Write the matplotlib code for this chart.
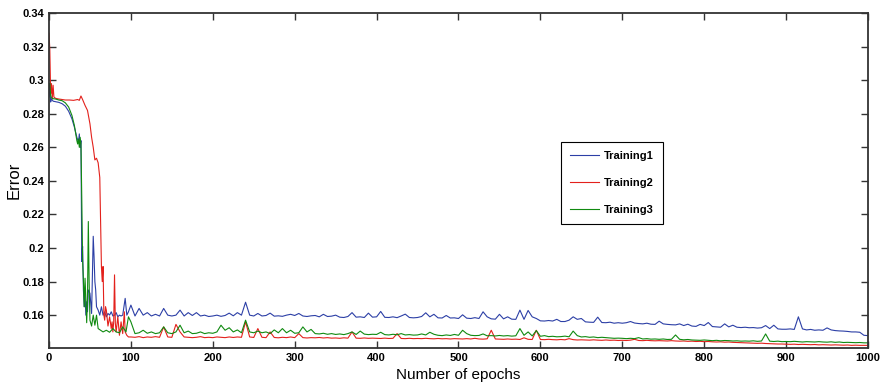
import numpy as np
import matplotlib
matplotlib.use("Agg")
import matplotlib.pyplot as plt

plt.rcParams['font.family'] = ['Liberation Sans', 'DejaVu Sans']

# ---- early epochs (0-99), read point by point ----
b_ep0 = [0, 1, 2, 3, 5, 8, 12, 16, 20, 24, 28, 31, 34, 36, 37, 38, 39, 40, 41, 42,
         43, 44, 45, 46, 47, 48, 50, 52, 54, 55, 56, 57, 58, 60, 62, 64, 66, 68, 70, 72,
         74, 76, 78, 80, 82, 84, 86, 88, 90, 93, 95, 97]
b_val0 = [0.290, 0.297, 0.287, 0.289, 0.2875, 0.2872, 0.2868, 0.2860, 0.2845, 0.2815,
          0.2770, 0.2720, 0.2660, 0.2630, 0.2680, 0.2600, 0.2640, 0.1920, 0.2010, 0.1750,
          0.1650, 0.1720, 0.1600, 0.1680, 0.1620, 0.1750, 0.1730, 0.1610, 0.2070, 0.1950,
          0.1800, 0.1750, 0.1650, 0.1630, 0.1600, 0.1650, 0.1600, 0.1620, 0.1590, 0.1610,
          0.1600, 0.1620, 0.1595, 0.1600, 0.1615, 0.1590, 0.1600, 0.1595, 0.1600, 0.1700,
          0.1600, 0.1620]

r_ep0 = [0, 1, 2, 3, 4, 5, 6, 8, 12, 16, 20, 25, 30, 35, 37, 39, 41, 44, 47, 50,
         52, 54, 56, 58, 60, 62, 63, 64, 65, 66, 67, 68, 69, 70, 72, 74, 76, 77, 78, 79,
         80, 81, 82, 84, 86, 88, 90, 92, 93, 95, 97]
r_val0 = [0.328, 0.318, 0.292, 0.298, 0.289, 0.297, 0.290, 0.2892, 0.2888, 0.2885,
          0.2882, 0.2882, 0.2880, 0.2885, 0.2880, 0.2906, 0.2885, 0.2850, 0.2820, 0.2740,
          0.2660, 0.2600, 0.2525, 0.2535, 0.2508, 0.2420, 0.2150, 0.1890, 0.1800, 0.1890,
          0.1600, 0.1570, 0.1650, 0.1630, 0.1535, 0.1590, 0.1520, 0.1560, 0.1500, 0.1560,
          0.1840, 0.1550, 0.1500, 0.1590, 0.1480, 0.1560, 0.1490, 0.1620, 0.1500, 0.1480,
          0.1470]

g_ep0 = [0, 1, 2, 3, 5, 8, 12, 16, 20, 24, 28, 31, 34, 35, 36, 37, 38, 39, 40, 41,
         42, 43, 44, 45, 46, 47, 48, 49, 50, 52, 54, 56, 58, 60, 63, 66, 70, 74, 78, 82,
         86, 90, 94, 97]
g_val0 = [0.296, 0.298, 0.291, 0.2895, 0.2890, 0.2888, 0.2882, 0.2878, 0.2865, 0.2840,
          0.2790, 0.2730, 0.2640, 0.2620, 0.2650, 0.2600, 0.2660, 0.2620, 0.2300, 0.1930,
          0.1810, 0.1650, 0.1820, 0.1700, 0.1555, 0.1700, 0.2158, 0.1800, 0.1570, 0.1535,
          0.1600, 0.1540, 0.1600, 0.1520, 0.1510, 0.1500, 0.1510, 0.1498, 0.1520, 0.1500,
          0.1495, 0.1530, 0.1500, 0.1590]

# ---- epochs 100..1000, every 5 epochs ----
tail_ep = np.arange(100, 1001, 5)

b_tail = [
    0.1660, 0.1595, 0.1640, 0.1600, 0.1615, 0.1595, 0.1605, 0.1595, 0.1640, 0.1600,
    0.1595, 0.1600, 0.1630, 0.1595, 0.1615, 0.1598, 0.1615, 0.1595, 0.1600, 0.1592,
    0.1595, 0.1600, 0.1593, 0.1598, 0.1612, 0.1596, 0.1615, 0.1600, 0.1677, 0.1600,
    0.1595, 0.1610, 0.1595, 0.1598, 0.1612, 0.1594, 0.1596, 0.1593, 0.1600, 0.1605,
    0.1598, 0.1610, 0.1595, 0.1592, 0.1596, 0.1598, 0.1590, 0.1605, 0.1592, 0.1594,
    0.1600, 0.1588, 0.1586, 0.1592, 0.1615, 0.1588, 0.1590, 0.1586, 0.1612, 0.1588,
    0.1590, 0.1622, 0.1587, 0.1586, 0.1590, 0.1585, 0.1595, 0.1606, 0.1586, 0.1584,
    0.1586, 0.1592, 0.1614, 0.1590, 0.1605, 0.1584, 0.1583, 0.1598, 0.1583, 0.1584,
    0.1580, 0.1602, 0.1582, 0.1580, 0.1585, 0.1580, 0.1620, 0.1590, 0.1578, 0.1576,
    0.1605, 0.1578, 0.1590, 0.1576, 0.1575, 0.1630, 0.1575, 0.1628, 0.1590, 0.1580,
    0.1566, 0.1565, 0.1568, 0.1565, 0.1575, 0.1562, 0.1562, 0.1570, 0.1590, 0.1575,
    0.1580, 0.1560, 0.1558, 0.1557, 0.1588, 0.1556, 0.1555, 0.1558, 0.1552, 0.1555,
    0.1552, 0.1555, 0.1562, 0.1553, 0.1550, 0.1548, 0.1552, 0.1546, 0.1545, 0.1564,
    0.1548, 0.1545, 0.1543, 0.1542, 0.1548, 0.1538, 0.1546, 0.1535, 0.1533, 0.1545,
    0.1538, 0.1556, 0.1532, 0.1530, 0.1528, 0.1548, 0.1530, 0.1540, 0.1528, 0.1526,
    0.1528, 0.1525, 0.1526, 0.1523, 0.1525, 0.1538, 0.1520, 0.1540, 0.1518, 0.1516,
    0.1516, 0.1518, 0.1515, 0.1590, 0.1518, 0.1512, 0.1515, 0.1510, 0.1512, 0.1510,
    0.1524, 0.1512, 0.1508, 0.1506, 0.1505, 0.1503, 0.1500, 0.1500, 0.1498, 0.1480,
    0.1478]

r_tail = [
    0.1470, 0.1468, 0.1472, 0.1466, 0.1470, 0.1468, 0.1472, 0.1468, 0.1530, 0.1470,
    0.1468, 0.1545, 0.1500, 0.1470, 0.1468, 0.1466, 0.1468, 0.1472, 0.1466, 0.1468,
    0.1466, 0.1470, 0.1468, 0.1466, 0.1470, 0.1467, 0.1470, 0.1468, 0.1560, 0.1470,
    0.1467, 0.1520, 0.1468, 0.1466, 0.1500, 0.1467, 0.1465, 0.1468, 0.1466, 0.1470,
    0.1466, 0.1490, 0.1466, 0.1464, 0.1466, 0.1465, 0.1467, 0.1464, 0.1466, 0.1463,
    0.1464, 0.1462, 0.1465, 0.1463, 0.1500, 0.1463, 0.1462, 0.1464, 0.1462, 0.1463,
    0.1462, 0.1461, 0.1463, 0.1461, 0.1462, 0.1490, 0.1461, 0.1460, 0.1462, 0.1460,
    0.1461, 0.1460, 0.1462, 0.1460, 0.1459, 0.1461, 0.1459, 0.1460, 0.1458, 0.1460,
    0.1459, 0.1458, 0.1460, 0.1458, 0.1462, 0.1458, 0.1457, 0.1459, 0.1510, 0.1458,
    0.1457, 0.1456, 0.1458, 0.1456, 0.1457, 0.1455, 0.1465, 0.1456, 0.1455, 0.1510,
    0.1455, 0.1454, 0.1456, 0.1454, 0.1453, 0.1455, 0.1453, 0.1460, 0.1454, 0.1452,
    0.1453, 0.1452, 0.1451, 0.1453, 0.1451, 0.1450, 0.1452, 0.1450, 0.1451, 0.1449,
    0.1450, 0.1449, 0.1451, 0.1456, 0.1449, 0.1448, 0.1450, 0.1448, 0.1447, 0.1448,
    0.1447, 0.1446, 0.1448, 0.1446, 0.1445, 0.1446, 0.1444, 0.1445, 0.1443, 0.1444,
    0.1442, 0.1443, 0.1441, 0.1440, 0.1441, 0.1439, 0.1440, 0.1438, 0.1437, 0.1436,
    0.1435, 0.1434, 0.1433, 0.1432, 0.1433, 0.1431, 0.1430, 0.1429, 0.1428, 0.1428,
    0.1427, 0.1426, 0.1427, 0.1425, 0.1426, 0.1425, 0.1424, 0.1425, 0.1423, 0.1424,
    0.1423, 0.1422, 0.1423, 0.1422, 0.1421, 0.1422, 0.1420, 0.1421, 0.1420, 0.1420,
    0.1420]

g_tail = [
    0.1560, 0.1490, 0.1495, 0.1510, 0.1492, 0.1500, 0.1490, 0.1495, 0.1530, 0.1495,
    0.1490, 0.1500, 0.1540, 0.1495, 0.1505, 0.1490, 0.1492, 0.1500, 0.1490, 0.1495,
    0.1492, 0.1500, 0.1540, 0.1510, 0.1525, 0.1500, 0.1512, 0.1495, 0.1570, 0.1500,
    0.1495, 0.1505, 0.1495, 0.1500, 0.1490, 0.1512, 0.1495, 0.1520, 0.1495, 0.1510,
    0.1492, 0.1495, 0.1530, 0.1500, 0.1515, 0.1490, 0.1488, 0.1492, 0.1486, 0.1490,
    0.1485, 0.1488, 0.1484, 0.1490, 0.1500, 0.1485, 0.1505, 0.1487, 0.1484, 0.1486,
    0.1485, 0.1498, 0.1484, 0.1482, 0.1486, 0.1483, 0.1490, 0.1482, 0.1484, 0.1481,
    0.1482, 0.1488, 0.1482, 0.1498, 0.1486, 0.1480, 0.1478, 0.1482, 0.1479, 0.1485,
    0.1480, 0.1510, 0.1490, 0.1480, 0.1478, 0.1479, 0.1488, 0.1477, 0.1478, 0.1476,
    0.1479, 0.1476, 0.1478, 0.1475, 0.1477, 0.1520, 0.1480, 0.1500, 0.1476, 0.1508,
    0.1474, 0.1478, 0.1472, 0.1474, 0.1471, 0.1472, 0.1475, 0.1471, 0.1505, 0.1478,
    0.1470, 0.1472, 0.1468, 0.1470, 0.1466, 0.1468, 0.1466, 0.1464, 0.1462, 0.1463,
    0.1462, 0.1460, 0.1462, 0.1460, 0.1466, 0.1458, 0.1460, 0.1457, 0.1458, 0.1456,
    0.1458, 0.1455, 0.1456, 0.1482, 0.1456, 0.1453, 0.1455, 0.1452, 0.1451, 0.1450,
    0.1452, 0.1450, 0.1448, 0.1450, 0.1447, 0.1449, 0.1448, 0.1446, 0.1447, 0.1445,
    0.1446, 0.1445, 0.1447, 0.1444, 0.1446, 0.1488, 0.1445, 0.1443, 0.1445, 0.1442,
    0.1443, 0.1442, 0.1444, 0.1442, 0.1440, 0.1442, 0.1441, 0.1440, 0.1442, 0.1440,
    0.1439, 0.1441, 0.1438, 0.1440, 0.1437, 0.1438, 0.1437, 0.1436, 0.1437, 0.1435,
    0.1435]

labels = ['Training1', 'Training2', 'Training3']
colors = ['#2c3fa6', '#e3211c', '#108a10']
x_ticks = [0, 100, 200, 300, 400, 500, 600, 700, 800, 900, 1000]
y_ticks = [0.16, 0.18, 0.2, 0.22, 0.24, 0.26, 0.28, 0.3, 0.32, 0.34]

fig = plt.figure(figsize=(8.83, 3.85), dpi=100)
ax = fig.add_axes([0.0555, 0.096, 0.9275, 0.87])

series = [
    (b_ep0, b_val0, b_tail),
    (r_ep0, r_val0, r_tail),
    (g_ep0, g_val0, g_tail),
]
for (ep0, v0, tail), lab, col in zip(series, labels, colors):
    x = np.concatenate([ep0, tail_ep])
    y = np.concatenate([v0, tail])
    ax.plot(x, y, color=col, lw=0.8, label=lab)

ax.set_xlim(0, 1000)
ax.set_ylim(0.1404, 0.34)
ax.set_xticks(x_ticks)
ax.set_yticks(y_ticks)
ax.set_yticklabels(['%g' % t for t in y_ticks])
ax.tick_params(direction='in', length=5, width=1, top=True, right=True,
               labelsize=8, colors='#333333', labelcolor='black')
for lbl in ax.get_xticklabels() + ax.get_yticklabels():
    lbl.set_fontweight('bold')
for s in ax.spines.values():
    s.set_linewidth(1.3)
    s.set_color('#333333')

ax.set_xlabel('Number of epochs', fontsize=11, labelpad=4)
ax.set_ylabel('Error', fontsize=12, labelpad=0.5)

leg = ax.legend(loc='upper left', bbox_to_anchor=(0.625, 0.615), borderaxespad=0,
                fancybox=False, edgecolor='black', framealpha=1, handlelength=2.6,
                handletextpad=0.5, labelspacing=1.55, borderpad=0.8,
                prop={'weight': 'bold', 'size': 8})
leg.get_frame().set_linewidth(0.8)

fig.savefig('out.png', dpi=100)
